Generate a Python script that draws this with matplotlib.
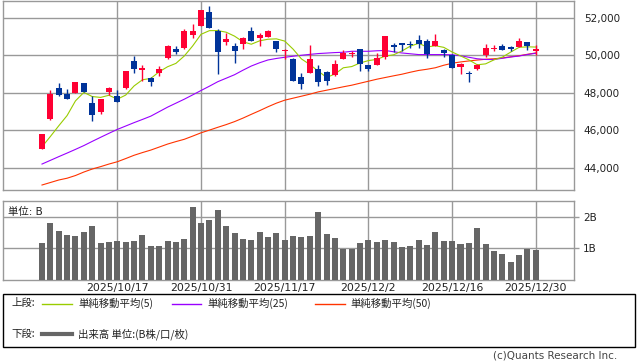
import numpy as np
import pandas as pd
import matplotlib
matplotlib.use("Agg")
import matplotlib.pyplot as plt
from matplotlib.patches import Rectangle
from matplotlib.lines import Line2D

plt.rcParams['font.family'] = ['DejaVu Sans', 'Noto Sans CJK JP']

# daily candles, 2025/10/3 .. 2025/12/30
opens = [45003, 46603, 48277, 47920, 47973, 48507, 47440, 46976, 48043, 47797,
         48240, 49680, 49200, 48811, 49077, 49856, 50320, 50389, 51083, 51563,
         52293, 51280, 50693, 50480, 50603, 51280, 50944, 50976, 50747, 50213,
         49787, 48827, 49056, 49253, 49093, 48933, 49803, 50050, 50320, 49467,
         49483, 49909, 50549, 50640, 50624, 50837, 50784, 50480, 50304, 50037,
         49376, 49077, 49291, 50016, 50336, 50496, 50443, 50443, 50693, 50229]
highs = [45800, 48133, 48507, 48187, 48580, 48530, 47830, 47670, 48293, 48133,
         49160, 49947, 49467, 48830, 49413, 50533, 50480, 51387, 51669, 52410,
         52629, 51387, 51189, 50656, 50976, 51493, 51189, 51349, 50760, 50320,
         49877, 49077, 50533, 49467, 49163, 49733, 50304, 50230, 50330, 49480,
         50123, 51020, 50677, 50650, 50747, 51067, 50853, 51120, 50315, 50091,
         49570, 49163, 49536, 50624, 50533, 50624, 50496, 50907, 50705, 50533]
lows = [44990, 46550, 47830, 47660, 47960, 48030, 46496, 46870, 47867, 47500,
        48187, 49040, 48613, 48384, 48896, 49803, 50053, 50320, 50907, 51550,
        51445, 49003, 50549, 49589, 50336, 50770, 50517, 50960, 50176, 49803,
        48615, 48224, 49040, 48384, 48437, 48880, 49790, 49930, 49163, 49147,
        49470, 49824, 50176, 50229, 50389, 50411, 49877, 50470, 49893, 49310,
        48987, 48560, 49200, 49909, 50213, 50270, 50229, 50430, 50283, 50016]
closes = [45787, 47920, 47883, 47670, 48560, 48043, 46816, 47653, 48240, 47510,
          49147, 49253, 49307, 48597, 49291, 50480, 50160, 51280, 51280, 52400,
          51456, 50176, 50853, 50229, 50907, 50784, 51083, 51280, 50336, 50304,
          48629, 48469, 49787, 48576, 48629, 49520, 50144, 50110, 49536, 49269,
          49840, 51013, 50464, 50549, 50571, 50587, 50053, 50784, 50123, 49323,
          49557, 48987, 49467, 50373, 50389, 50283, 50336, 50747, 50496, 50336]
volume = [1.18, 1.81, 1.56, 1.43, 1.40, 1.53, 1.72, 1.18, 1.21, 1.24,
          1.21, 1.24, 1.43, 1.09, 1.09, 1.24, 1.21, 1.31, 2.32, 1.81,
          1.91, 2.23, 1.72, 1.50, 1.31, 1.28, 1.53, 1.37, 1.50, 1.28,
          1.40, 1.37, 1.40, 2.16, 1.46, 1.34, 0.99, 0.99, 1.18, 1.28,
          1.21, 1.28, 1.21, 1.05, 1.09, 1.28, 1.12, 1.53, 1.24, 1.24,
          1.15, 1.18, 1.66, 1.15, 0.93, 0.83, 0.58, 0.80, 0.99, 0.96]

# first four MA5 points need closes before the window
ma5_head = [45110, 45660, 46230, 46780]
ma25 = [44187, 44384, 44582, 44774, 44971, 45174, 45398, 45616, 45830, 46038,
        46219, 46400, 46571, 46747, 46987, 47227, 47440, 47653, 47883, 48117,
        48347, 48587, 48773, 48960, 49200, 49424, 49600, 49749, 49829, 49893,
        49947, 50000, 50048, 50091, 50117, 50144, 50160, 50213, 50213, 50213,
        50240, 50256, 50187, 50123, 50080, 50037, 50037, 50037, 50037, 50027,
        49973, 49893, 49813, 49776, 49771, 49840, 49905, 49960, 50040, 50110]
ma50 = [43067, 43200, 43334, 43430, 43574, 43760, 43920, 44048, 44187, 44310,
        44480, 44656, 44800, 44934, 45094, 45254, 45387, 45510, 45680, 45856,
        46000, 46150, 46294, 46454, 46640, 46843, 47040, 47248, 47440, 47600,
        47707, 47813, 47920, 48043, 48133, 48224, 48315, 48400, 48507, 48613,
        48720, 48811, 48901, 48987, 49093, 49189, 49253, 49333, 49467, 49573,
        49643, 49696, 49744, 49787, 49813, 49856, 49920, 49973, 50053, 50123]

tick_idx = [9, 19, 29, 39, 49, 59]
tick_labels = ["2025/10/17", "2025/10/31", "2025/11/17",
               "2025/12/2", "2025/12/16", "2025/12/30"]
price_ticks = [44000, 46000, 48000, 50000, 52000]
vol_ticks = [1, 2]
vol_tick_labels = ["1B", "2B"]

UP = "#ff0033"
DOWN = "#003399"
GRID = "#999999"
TXT = "#222222"
W, H = 638, 362


def fx(x):
    return x / W


def fy(y):
    return 1 - y / H


o = np.array(opens, float)
c = np.array(closes, float)
x = np.arange(len(o))
ma5 = pd.Series(c).rolling(5).mean().to_numpy()
ma5[:4] = ma5_head

fig = plt.figure(figsize=(6.38, 3.62), dpi=100)
ax1 = fig.add_axes([fx(3), fy(190), fx(571), 189 / H])
ax2 = fig.add_axes([fx(3), fy(280), fx(571), 79 / H])

for ax in (ax1, ax2):
    ax.set_xlim(-4.66, 63.56)
    ax.set_xticks(tick_idx)
    ax.grid(True, color=GRID, lw=1)
    ax.set_axisbelow(True)
    for s in ax.spines.values():
        s.set_color(GRID)
        s.set_linewidth(1)
    ax.yaxis.tick_right()

# price panel
ax1.set_ylim(42800, 52900)
ax1.set_yticks(price_ticks)
ax1.set_yticklabels([f"{v:,}" for v in price_ticks])
ax1.tick_params(axis='y', length=0, pad=7, labelsize=7.5, labelcolor=TXT)
ax1.tick_params(axis='x', length=0, labelbottom=False)

ax1.plot(x, ma50, color="#ff3300", lw=0.8, zorder=2)
ax1.plot(x, ma25, color="#9900ff", lw=0.8, zorder=2)
ax1.plot(x, ma5, color="#99cc00", lw=0.8, zorder=2)

cols = np.where(c >= o, UP, DOWN)
ax1.vlines(x, lows, highs, colors=cols, lw=1, zorder=3)
body = np.maximum(np.abs(c - o), 55)
ax1.bar(x, body, bottom=np.minimum(o, c), width=0.72, color=cols,
        linewidth=0, zorder=4)

# volume panel
ax2.set_ylim(0, 2.5)
ax2.set_yticks(vol_ticks)
ax2.set_yticklabels(vol_tick_labels)
ax2.tick_params(axis='y', length=3.6, width=1, color=GRID, pad=3,
                labelsize=7.5, labelcolor=TXT)
ax2.set_xticklabels(tick_labels)
ax2.tick_params(axis='x', length=0, pad=2, labelsize=7.8, labelcolor=TXT)
ax2.bar(x, volume, width=0.72, color="#666666", linewidth=0, zorder=3)
ax2.text(0.008, 0.93, "単位: B", transform=ax2.transAxes, ha='left', va='top',
         fontsize=7.5, color=TXT)

# legend box
fig.add_artist(Rectangle((fx(3), fy(347)), fx(632), 53 / H, fill=False,
                         edgecolor="black", lw=1))
cjk = ['Noto Sans CJK JP', 'DejaVu Sans']
row1, row2 = 303, 334
fig.text(fx(11), fy(row1), "上段:", family=cjk, fontsize=7.5, va='center', color=TXT)
fig.text(fx(11), fy(row2), "下段:", family=cjk, fontsize=7.5, va='center', color=TXT)
items = [(42, 72, 78, "#99cc00", "単純移動平均(5)"),
         (172, 201, 207, "#9900ff", "単純移動平均(25)"),
         (315, 345, 350, "#ff3300", "単純移動平均(50)")]
for x0, x1, xt, col, lab in items:
    ly = fy(row1 + 0.5)
    fig.add_artist(Line2D([fx(x0), fx(x1)], [ly, ly], color=col, lw=1))
    fig.text(fx(xt), fy(row1), lab, family=cjk, fontsize=7.5, va='center', color=TXT)
fig.add_artist(Line2D([fx(42), fx(72)], [fy(row2), fy(row2)], color="#666666", lw=3))
fig.text(fx(78), fy(row2), "出来高 単位:(B株/口/枚)", family=cjk, fontsize=7.5,
         va='center', color=TXT)

fig.text(fx(617), fy(356), "(c)Quants Research Inc.", ha='right', va='center',
         fontsize=7.5, color="#444444")

fig.savefig("out.png", dpi=100)
